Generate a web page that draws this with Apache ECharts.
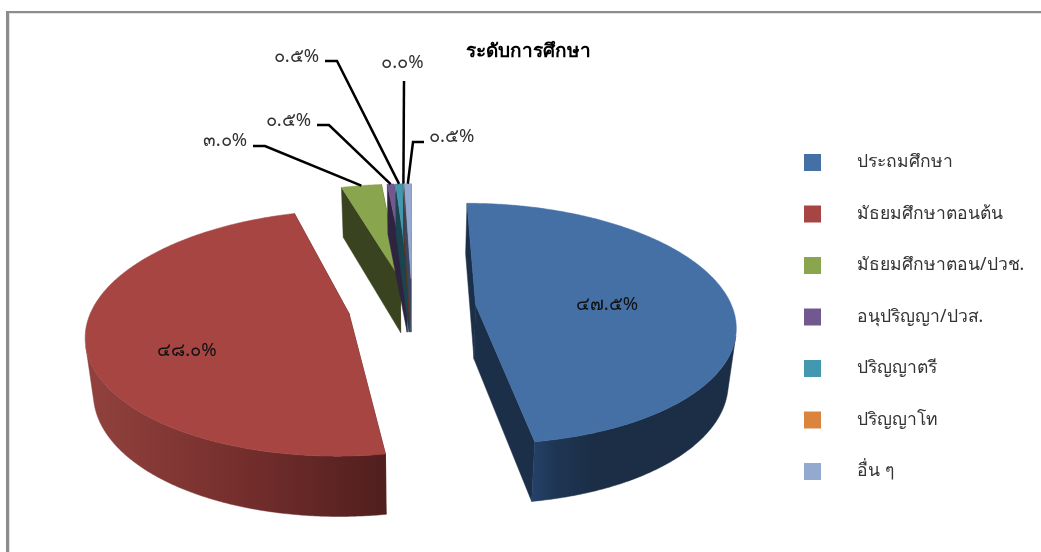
<!DOCTYPE html>
<html><head><meta charset="utf-8">
<style>html,body{margin:0;padding:0;background:#fff}#c{width:1041px;height:552px}</style>
<script src="https://cdn.jsdelivr.net/npm/echarts@6/dist/echarts.min.js"></script>
</head><body><div id="c"></div>
<script>
const titleText = 'ระดับการศึกษา';
const categories = ['ประถมศึกษา','มัธยมศึกษาตอนต้น','มัธยมศึกษาตอน/ปวช.','อนุปริญญา/ปวส.','ปริญญาตรี','ปริญญาโท','อื่น ๆ'];
const shareValues = [47.5, 48.0, 3.0, 0.5, 0.5, 0.02, 0.5];
const sliceColors = ['#4470A6','#A64542','#89A54E','#71588F','#4198AF','#DB843D','#93A9CF'];
const wallColors  = ['#1B2F48','#4F1F1E','#3A431F','#2E2440','#1A4450','#5A3518','#3C4660'];
// rim shading, left to right across the page
const rimShades = [
  {from:532,to:737,stops:[[0,'#25416A'],[0.12,'#1E3552'],[0.3,'#1B2E46'],[1,'#1B2E46']]},
  {from:85,to:386,stops:[[0,'#92423E'],[0.5,'#762F2D'],[1,'#501F1E']]},
  null,null,null,null,null
];
// label layout: text anchor, elbow and leader start, in page pixels
const labelLayout = [
  {text:[607,305], align:'center'},
  {text:[187,351], align:'center'},
  {text:[247,141], align:'right', from:[253,146], elbow:[265,146]},
  {text:[311,121], align:'right', from:[317,125], elbow:[329,125]},
  {text:[319,57],  align:'right', from:[325,61],  elbow:[337,61]},
  {text:[402.5,63],align:'center',from:[404,81],  elbow:[404,81]},
  {text:[429,137], align:'left',  from:[424,142], elbow:[413,142]}
];

// projection of the tilted, exploded pie
const P = {x0:412, y0:307, R:256.5, b:118, p:0.157, explode:64, bx:0.975, by:1.039, depth:54.5};
const thaiDigits = '๐๑๒๓๔๕๖๗๘๙';
const toThai = v => v.toFixed(1).replace(/\d/g, d => thaiDigits[d]) + '%';
const total = shareValues.reduce((a,b)=>a+b,0);
const starts = []; shareValues.reduce((a,v,i)=>(starts[i]=a, a+v/total*360),0);
const rad = d => d*Math.PI/180;
const FONT = 'Tahoma, "Noto Sans", "DejaVu Sans", "Liberation Sans", sans-serif';

function project(ox,oz,rad_,theta){
  const X=ox+rad_*P.R*Math.sin(rad(theta));
  const Z=oz+rad_*Math.cos(rad(theta));
  const w=1+P.p*Z;
  return {dx:X/w, dy:-P.b*Z/w};
}
const top_=q=>[P.x0+q.dx, P.y0+q.dy];
const bot_=q=>[P.x0+q.dx*P.bx, P.y0+q.dy*P.by+P.depth];
// signed area of one rim strip; the sign tells whether it faces the viewer
function stripArea(q1,q2){
  const p=[top_(q1),top_(q2),bot_(q2),bot_(q1)];
  let s=0; p.forEach((c,j)=>{const d=p[(j+1)%4]; s+=c[0]*d[1]-d[0]*c[1];});
  return s;
}

function renderSlice(i){
  return function(params,api){
    const v=api.value(0);
    const a=starts[i], b=a+v/total*360, mid=(a+b)/2;
    const ox=P.explode*Math.sin(rad(mid));
    const oz=P.explode*Math.cos(rad(mid))/P.R;
    const apex=project(ox,oz,0,0);
    const children=[];
    const N=Math.max(2,Math.ceil((b-a)/0.5));
    const pts=[]; for(let k=0;k<=N;k++){pts.push(a+(b-a)*k/N);}
    const poly=(p,c)=>children.push({type:'polygon',shape:{points:p},style:{fill:c,stroke:c,lineWidth:0.5}});
    // radial walls
    const qa=project(ox,oz,1,a), qb=project(ox,oz,1,b);
    poly([top_(apex),top_(qa),bot_(qa),bot_(apex)],wallColors[i]);
    poly([top_(apex),top_(qb),bot_(qb),bot_(apex)],wallColors[i]);
    // outer rim: only the part of the arc that faces the viewer, as one shape
    const arc=pts.map(t=>project(ox,oz,1,t));
    const frontSign=Math.sign(stripArea(project(0,0,1,180),project(0,0,1,181)));
    const front=[];
    for(let k=0;k<N;k++){
      if(Math.sign(stripArea(arc[k],arc[k+1]))===frontSign){
        if(!front.length) front.push(arc[k]);
        front.push(arc[k+1]);
      }
    }
    if(front.length>1){
      const shade=rimShades[i];
      const rimFill=shade
        ? new echarts.graphic.LinearGradient(shade.from,0,shade.to,0,shade.stops.map(s=>({offset:s[0],color:s[1]})),true)
        : wallColors[i];
      poly(front.map(top_).concat(front.slice().reverse().map(bot_)),rimFill);
    }
    // top face
    poly([top_(apex)].concat(arc.map(top_)),sliceColors[i]);
    // leader + label
    const L=labelLayout[i];
    if(L.from){
      const end=top_(project(ox,oz,1,mid));
      children.push({type:'polyline',shape:{points:[L.from,L.elbow,end]},style:{fill:null,stroke:'#000',lineWidth:2.5}});
    }
    children.push({type:'text',style:{text:toThai(shareValues[i]),x:L.text[0],y:L.text[1],textAlign:L.align,textVerticalAlign:'middle',fill:i<2?'#111':'#333',font:'18.5px '+FONT}});
    return {type:'group',children};
  };
}

const chart=echarts.init(document.getElementById('c'),null,{renderer:'canvas'});
chart.setOption({
  animation:false,
  backgroundColor:'#fff',
  title:{text:titleText,left:523,top:37,textAlign:'center',textStyle:{fontFamily:FONT,fontSize:19,fontWeight:'bold',color:'#000'}},
  legend:{orient:'vertical',left:804,top:149,padding:0,itemWidth:17,itemHeight:17,itemGap:24.5,icon:'rect',selectedMode:false,
    data:categories,
    textStyle:{fontFamily:FONT,fontSize:17.5,color:'#333',lineHeight:17,padding:[0,0,10,31]}},
  graphic:[
    {type:'rect',shape:{x:6,y:11,width:3,height:541},style:{fill:'#8C8C8C'},silent:true},
    {type:'rect',shape:{x:9,y:13,width:1,height:539},style:{fill:'#E4E4E4'},silent:true},
    {type:'rect',shape:{x:6,y:11,width:1035,height:2},style:{fill:'#8C8C8C'},silent:true},
    {type:'rect',shape:{x:9,y:13,width:1032,height:1},style:{fill:'#E4E4E4'},silent:true}
  ],
  series:categories.map((name,i)=>({
    type:'custom',name,coordinateSystem:'none',
    itemStyle:{color:sliceColors[i]},
    data:[[shareValues[i]]],
    renderItem:renderSlice(i),
    z:2+i
  }))
});
</script></body></html>
